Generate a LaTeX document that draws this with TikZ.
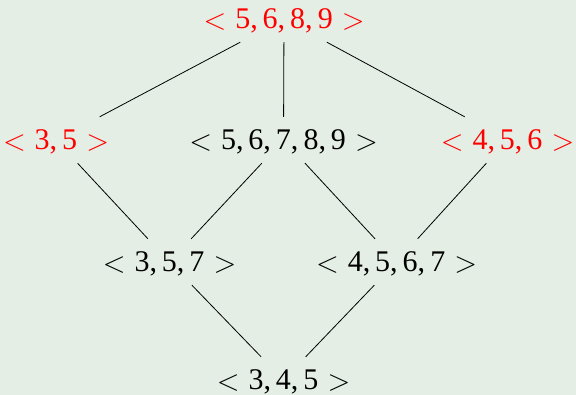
\documentclass[tikz,border=0pt]{standalone}
\usepackage{fontspec}
\setmainfont{Liberation Serif}
\definecolor{bg}{RGB}{228,238,228}
\newcommand{\seqlab}[1]{\raisebox{-0.3pt}{\scalebox{1.2}{$<$}}\hspace{0.3em}#1\hspace{0.3em}\raisebox{-0.3pt}{\scalebox{1.2}{$>$}}}
\begin{document}
\begin{tikzpicture}[x=1pt,y=-1pt,
  lab/.style={font=\fontsize{30}{33}\selectfont, text height=20pt, text depth=0pt, inner ysep=13pt, inner xsep=2pt},
  hl/.style={lab, text=red},
  edge/.style={draw=black, line width=0.8pt}]
\path[use as bounding box, fill=bg] (0,0) rectangle (576,395);
\node[hl]  (top) at (284,19)  {\seqlab{5,\,6,\,8,\,9}};
\node[hl]  (a)   at (56,140)  {\seqlab{3,\,5}};
\node[lab] (b)   at (283.5,140) {\seqlab{5,\,6,\,7,\,8,\,9}};
\node[hl]  (c)   at (507.5,140) {\seqlab{4,\,5,\,6}};
\node[lab] (d)   at (169.5,262) {\seqlab{3,\,5,\,7}};
\node[lab] (e)   at (396.5,262) {\seqlab{4,\,5,\,6,\,7}};
\node[lab] (f)   at (283.5,380) {\seqlab{3,\,4,\,5}};
\draw[edge] (top) -- (a);
\draw[edge] (top) -- (b);
\draw[edge] (top) -- (c);
\draw[edge] (a) -- (d);
\draw[edge] (b) -- (d);
\draw[edge] (b) -- (e);
\draw[edge] (c) -- (e);
\draw[edge] (d) -- (f);
\draw[edge] (e) -- (f);
\end{tikzpicture}
\end{document}
